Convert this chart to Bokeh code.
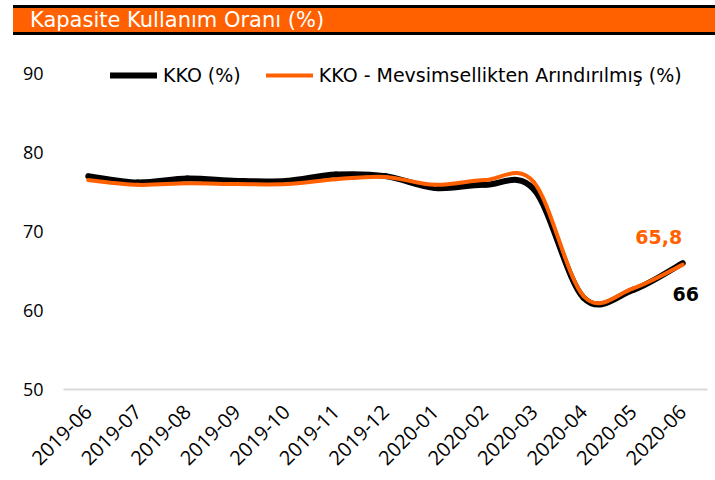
import numpy as np
from bokeh.plotting import figure
from bokeh.models import Div, Legend, LegendItem, FixedTicker, Range1d
from bokeh.layouts import column
from bokeh.embed import file_html
from bokeh.resources import INLINE
from bokeh.core.properties import value

# ---- data ----
months = ["2019-06", "2019-07", "2019-08", "2019-09", "2019-10", "2019-11", "2019-12",
          "2020-01", "2020-02", "2020-03", "2020-04", "2020-05", "2020-06"]
kko = [77.0, 76.2, 76.7, 76.4, 76.4, 77.2, 77.0, 75.5, 75.9, 75.3, 61.6, 62.6, 66.0]
kko_sa = [76.5, 75.9, 76.1, 76.0, 76.0, 76.6, 76.9, 75.9, 76.5, 76.2, 61.8, 62.8, 65.8]
y_ticks = [50, 60, 70, 80, 90]
title_text = "Kapasite Kullanım Oranı (%)"
legend_labels = ["KKO (%)", "KKO - Mevsimsellikten Arındırılmış (%)"]

BLACK = "#000000"
ORANGE = "#FF6000"


def smooth_segments(vals):
    """Cubic Bezier control points (Catmull-Rom style, like a spreadsheet 'smoothed line')."""
    y = np.asarray(vals, dtype=float)
    x = np.arange(len(y), dtype=float)
    xp = np.concatenate([[x[0]], x, [x[-1]]])
    yp = np.concatenate([[y[0]], y, [y[-1]]])
    n = len(y)
    seg = dict(x0=[], y0=[], x1=[], y1=[], cx0=[], cy0=[], cx1=[], cy1=[])
    for i in range(n - 1):
        seg["x0"].append(x[i]); seg["y0"].append(y[i])
        seg["x1"].append(x[i + 1]); seg["y1"].append(y[i + 1])
        seg["cx0"].append(x[i] + (xp[i + 2] - xp[i]) / 6)
        seg["cy0"].append(y[i] + (yp[i + 2] - yp[i]) / 6)
        seg["cx1"].append(x[i + 1] - (xp[i + 3] - xp[i + 1]) / 6)
        seg["cy1"].append(y[i + 1] - (yp[i + 3] - yp[i + 1]) / 6)
    return seg


title = Div(
    text=(f'<div style="box-sizing:border-box;margin-left:8px;width:707px;height:30px;background:{ORANGE};'
          f'border-top:3px solid #000;border-bottom:3px solid #000;color:#fff;'
          f"font-family:'DejaVu Sans';font-size:21px;line-height:24px;padding-left:17px;"
          f'white-space:nowrap;">{title_text}</div>'),
    width=715, height=30,
)

p = figure(width=715, height=434,
           x_range=Range1d(-0.5, len(months) - 0.5), y_range=Range1d(50, 91),
           output_backend="svg", toolbar_location=None,
           min_border_left=63, min_border_right=8, min_border_top=25, min_border_bottom=80)
p.xgrid.visible = False
p.ygrid.visible = False
p.outline_line_color = None

ya = p.yaxis[0]
ya.ticker = FixedTicker(ticks=y_ticks)
ya.axis_line_color = None
ya.major_tick_line_color = None
ya.minor_tick_line_color = None
ya.major_tick_out = 0
ya.major_tick_in = 0
ya.major_label_standoff = 20
ya.major_label_text_font = "Open Sans"
ya.major_label_text_font_size = "18px"
ya.major_label_text_color = "#000000"

xa = p.xaxis[0]
xa.ticker = FixedTicker(ticks=list(range(len(months))))
xa.major_label_overrides = {i: m for i, m in enumerate(months)}
xa.major_label_orientation = np.pi / 4
xa.axis_line_color = "#D9D9D9"
xa.axis_line_width = 2
xa.major_tick_line_color = None
xa.minor_tick_line_color = None
xa.major_label_standoff = 13
xa.major_label_text_font = "Open Sans"
xa.major_label_text_font_size = "20px"
xa.major_label_text_color = "#000000"

s1 = smooth_segments(kko)
s2 = smooth_segments(kko_sa)
r1 = p.bezier(**s1, line_color=BLACK, line_width=6, line_cap="round")
r2 = p.bezier(**s2, line_color=ORANGE, line_width=4, line_cap="round")

legend = Legend(items=[LegendItem(label=legend_labels[0], renderers=[r1]),
                       LegendItem(label=legend_labels[1], renderers=[r2])],
                location=(47, 303), orientation="horizontal",
                glyph_width=47, glyph_height=16, label_height=16, label_standoff=6, spacing=25,
                padding=0, margin=0, border_line_color=None, background_fill_alpha=0,
                label_text_font="DejaVu Sans", label_text_font_size="19px",
                label_text_color="#000000")
p.add_layout(legend)

def fmt(v):
    return f"{v:g}".replace(".", ",")

last = len(months) - 1
p.text(x=[last], y=[kko_sa[-1]], text=[fmt(kko_sa[-1])], x_offset=-24, y_offset=-28,
       text_align="center", text_baseline="middle", text_font=value("DejaVu Sans"),
       text_font_style="bold", text_font_size="19px", text_color=ORANGE)
p.text(x=[last], y=[kko[-1]], text=[fmt(kko[-1])], x_offset=3, y_offset=31,
       text_align="center", text_baseline="middle", text_font=value("DejaVu Sans"),
       text_font_style="bold", text_font_size="19px", text_color=BLACK)

layout = column(title, p, spacing=0)
open("out.html", "w").write(file_html(layout, INLINE))
